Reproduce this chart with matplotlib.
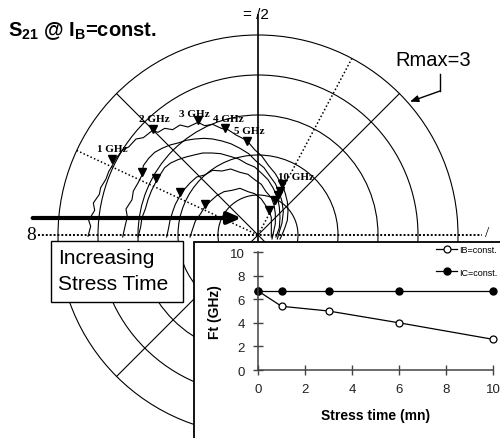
import matplotlib.pyplot as plt
from matplotlib.patches import Circle, Rectangle
import numpy as np

plt.rcParams['font.family'] = ['Liberation Sans', 'DejaVu Sans']
plt.rcParams['mathtext.fontset'] = 'custom'
plt.rcParams['mathtext.rm'] = 'Liberation Sans'
plt.rcParams['mathtext.bf'] = 'Liberation Sans:bold'

W, H = 500, 439

# S21 traces (real, imag), one per stress time, outermost = fresh device
s21_re_a = [-2.55, -2.51, -2.54, -2.45, -2.47, -2.38, -2.36, -2.28, -2.24, -2.17, -2.12, -2.03,
            -1.94, -1.83, -1.72, -1.58, -1.50, -1.40, -1.28, -1.17, -1.05, -0.90, -0.80, -0.68,
            -0.55, -0.45, -0.33, -0.17, -0.05, 0.06, 0.16, 0.26, 0.33, 0.37, 0.41, 0.44, 0.45,
            0.44, 0.40, 0.36, 0.33]
s21_im_a = [-0.02, 0.13, 0.22, 0.37, 0.48, 0.61, 0.71, 0.84, 0.95, 1.07, 1.16, 1.28,
            1.32, 1.44, 1.46, 1.57, 1.54, 1.60, 1.58, 1.65, 1.62, 1.69, 1.64, 1.66,
            1.60, 1.58, 1.50, 1.42, 1.28, 1.18, 1.04, 0.92, 0.80, 0.74, 0.62, 0.50, 0.36,
            0.22, 0.10, 0.00, -0.06]

s21_re_b = [-2.03, -1.99, -1.96, -1.98, -1.89, -1.87, -1.80, -1.74, -1.72, -1.64, -1.55, -1.44,
            -1.32, -1.20, -1.08, -0.95, -0.81, -0.68, -0.54, -0.41, -0.27, -0.14, -0.02, 0.09,
            0.18, 0.26, 0.32, 0.36, 0.38, 0.36, 0.32, 0.29]
s21_im_b = [-0.03, 0.15, 0.27, 0.39, 0.53, 0.66, 0.78, 0.90, 1.04, 1.15, 1.24, 1.30,
            1.35, 1.38, 1.42, 1.44, 1.45, 1.44, 1.41, 1.37, 1.30, 1.22, 1.10, 1.01,
            0.88, 0.77, 0.64, 0.50, 0.35, 0.18, 0.05, -0.06]

s21_re_c = [-1.80, -1.76, -1.74, -1.69, -1.65, -1.60, -1.53, -1.47, -1.40, -1.31, -1.20, -1.08,
            -0.96, -0.83, -0.69, -0.56, -0.42, -0.29, -0.17, -0.05, 0.06, 0.15, 0.23, 0.29,
            0.32, 0.33, 0.32, 0.27]
s21_im_c = [-0.03, 0.12, 0.26, 0.39, 0.53, 0.66, 0.80, 0.90, 1.01, 1.08, 1.13, 1.17,
            1.20, 1.23, 1.23, 1.22, 1.18, 1.14, 1.07, 1.02, 0.92, 0.83, 0.70, 0.57,
            0.42, 0.26, 0.11, -0.03]

s21_re_d = [-1.37, -1.34, -1.32, -1.28, -1.24, -1.17, -1.10, -1.02, -0.92, -0.80, -0.68, -0.54,
            -0.41, -0.27, -0.15, -0.05, 0.05, 0.12, 0.20, 0.24, 0.26, 0.26, 0.23, 0.21]
s21_im_d = [-0.03, 0.11, 0.22, 0.35, 0.46, 0.59, 0.69, 0.78, 0.87, 0.90, 0.97, 0.96,
            0.99, 0.94, 0.91, 0.83, 0.76, 0.65, 0.56, 0.45, 0.32, 0.17, 0.03, -0.06]

s21_re_e = [-1.02, -0.98, -0.94, -0.86, -0.80, -0.71, -0.62, -0.51, -0.39, -0.27, -0.15, -0.05,
            0.05, 0.11, 0.17, 0.20, 0.20, 0.20]
s21_im_e = [-0.03, 0.09, 0.21, 0.32, 0.42, 0.51, 0.59, 0.65, 0.67, 0.70, 0.65, 0.62,
            0.54, 0.45, 0.36, 0.26, 0.12, -0.03]

# frequency markers on the outermost trace
freq_labels = ['1 GHz', '2 GHz', '3 GHz', '4 GHz', '5 GHz', '10 GHz']
freq_re = [-2.19, -1.58, -0.90, -0.50, -0.17, 0.36]
freq_im = [1.14, 1.59, 1.72, 1.60, 1.41, 0.76]
label_re = [-2.19, -1.56, -0.95, -0.45, -0.13, 0.57]
label_im = [1.29, 1.74, 1.82, 1.74, 1.56, 0.87]

# 1 GHz and 10 GHz markers on the inner traces
f1_re = [-1.74, -1.53, -1.17, -0.80]
f1_im = [0.95, 0.86, 0.64, 0.46]
f10_re = [0.33, 0.30, 0.26, 0.17]
f10_im = [0.66, 0.60, 0.53, 0.37]

# inset: Ft versus stress time
stress_time = [0, 1, 3, 6, 10]
ft_ib = [6.7, 5.4, 5.0, 4.0, 2.6]
ft_ic = [6.7, 6.7, 6.7, 6.7, 6.7]

rings = [0.6, 1.2, 1.8, 2.4, 3.0]


def fx(px):
    return px / W


def fy(py):
    return 1 - py / H


fig = plt.figure(figsize=(W / 100, H / 100), dpi=100)
ax = fig.add_axes([0, 0, 1, 1])
ax.set_xlim(-3.87, 3.63)
ax.set_ylim(-3.045, 3.54)
ax.axis('off')

# polar grid
for r in rings:
    ax.add_patch(Circle((0, 0), r, fill=False, color='black', lw=0.8))
for ang in [45, 135]:
    t = np.deg2rad(ang)
    ax.plot([-3 * np.cos(t), 3 * np.cos(t)], [-3 * np.sin(t), 3 * np.sin(t)], color='black', lw=0.8)
for ang in [62, 155]:
    t = np.deg2rad(ang)
    ax.plot([0, 3 * np.cos(t)], [0, 3 * np.sin(t)], color='black', lw=1.1, ls=(0, (1, 1.5)))
ax.plot([0, 0], [-3.0, 3.3], color='black', lw=1.2)
ax.plot([-3.3, 3.36], [0, 0], color='black', lw=1.4, ls=(0, (1, 1)))

# S21 traces
for re, im in [(s21_re_a, s21_im_a), (s21_re_b, s21_im_b), (s21_re_c, s21_im_c),
               (s21_re_d, s21_im_d), (s21_re_e, s21_im_e)]:
    ax.plot(re, im, color='black', lw=0.8)

ax.plot(freq_re, freq_im, 'v', color='black', ms=6, ls='none')
ax.plot(f1_re, f1_im, 'v', color='black', ms=6, ls='none')
ax.plot(f10_re, f10_im, 'v', color='black', ms=6, ls='none')
for lab, x, y in zip(freq_labels, label_re, label_im):
    ax.text(x, y, lab, ha='center', va='center', fontsize=8, fontweight='bold',
            family='Liberation Serif')

# increasing stress arrow
ax.annotate('', xy=(-0.25, 0.255), xytext=(-3.38, 0.255),
            arrowprops=dict(arrowstyle='-|>,head_length=0.8,head_width=0.35', lw=3,
                            color='black', shrinkA=0, shrinkB=0))

# Rmax callout
ax.plot([2.73, 2.73], [2.42, 2.16], color='black', lw=1)
ax.annotate('', xy=(2.28, 2.0), xytext=(2.73, 2.16),
            arrowprops=dict(arrowstyle='-|>,head_length=0.5,head_width=0.2', lw=1,
                            color='black', shrinkA=0, shrinkB=0))

fig.text(fx(395), fy(60), 'Rmax=3', fontsize=14.5, va='center', ha='left')
fig.text(fx(8), fy(31), r'$\mathbf{S}_{\mathbf{21}}$ @ $\mathbf{I}_{\mathbf{B}}$=const.',
         fontsize=14.5, fontweight='bold', va='center', ha='left')
fig.text(fx(256), fy(15), '= /2', fontsize=11, va='center', ha='center')
fig.text(fx(31), fy(236), '8', fontsize=14, va='center', ha='center', family='Liberation Serif')
fig.text(fx(487), fy(234), '/', fontsize=11, va='center', ha='center', family='Liberation Serif')

# label box
ax.add_patch(Rectangle((fx(51), fy(303)), fx(183) - fx(51), fy(242) - fy(303),
                       transform=fig.transFigure, facecolor='white', edgecolor='black',
                       lw=1, zorder=6, clip_on=False))
ax.text(fx(58), fy(259), 'Increasing', transform=fig.transFigure, fontsize=15,
        va='center', ha='left', zorder=7)
ax.text(fx(58), fy(285), 'Stress Time', transform=fig.transFigure, fontsize=15,
        va='center', ha='left', zorder=7)

# inset panel
ax.add_patch(Rectangle((fx(194), -0.02), 0.7, fy(243) + 0.02, transform=fig.transFigure,
                       facecolor='white', edgecolor='black', lw=1.3, zorder=8, clip_on=False))

ins = fig.add_axes([fx(258), fy(371), fx(493) - fx(258), fy(253) - fy(371)])
ins.set_zorder(10)
ins.patch.set_alpha(0)
ins.plot(stress_time, ft_ib, color='black', lw=0.9, marker='o', ms=5, mfc='white',
         mec='black', mew=0.9, label='IB=const.', clip_on=False)
ins.plot(stress_time, ft_ic, color='black', lw=0.9, marker='o', ms=5, mfc='black',
         mec='black', label='IC=const.', clip_on=False)
ins.set_xlim(0, 10)
ins.set_ylim(0, 10)
ins.set_xticks([0, 2, 4, 6, 8, 10])
ins.set_yticks([0, 2, 4, 6, 8, 10])
for s in ['top', 'right']:
    ins.spines[s].set_visible(False)
for s in ['left', 'bottom']:
    ins.spines[s].set_color('#444444')
    ins.spines[s].set_linewidth(1.1)
ins.tick_params(direction='inout', length=7, width=1, color='#444444', labelsize=9.5,
                labelcolor='#222222', pad=6)
ins.set_xlabel('Stress time (mn)', fontsize=10, fontweight='bold', labelpad=9)
ins.set_ylabel('Ft (GHz)', fontsize=10, fontweight='bold', labelpad=6)
ins.legend(loc='upper right', bbox_to_anchor=(fx(497), fy(246)), bbox_transform=fig.transFigure,
           frameon=False, fontsize=6.5, handlelength=2.3, labelspacing=1.5, handletextpad=0.2,
           borderpad=0, borderaxespad=0)

fig.savefig('out.png', dpi=100)
